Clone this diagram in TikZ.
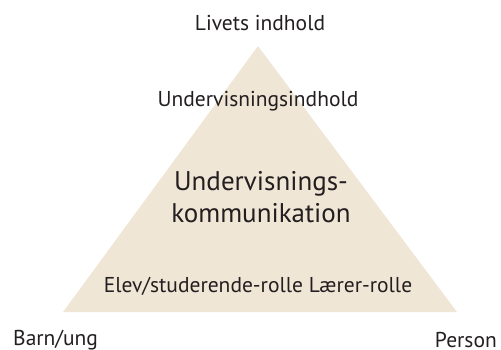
\documentclass[tikz,border=0pt]{standalone}
\usepackage{fontspec}
\setmainfont{PT Sans}
\definecolor{tri}{HTML}{F0E6D6}
\definecolor{ink}{HTML}{231F20}
\begin{document}
\begin{tikzpicture}[x=1pt,y=-1pt,
  lbl/.style={inner sep=0pt,text=ink,font=\fontsize{21.5}{24}\selectfont},
  big/.style={inner sep=0pt,text=ink,align=center,font=\fontsize{27}{32}\selectfont}]
\useasboundingbox (0,0) rectangle (501,350);
\coordinate (apex) at (258,46);
\coordinate (bl) at (63,312);
\coordinate (br) at (457,312);
\fill[tri] (apex) -- (bl) -- (br) -- cycle;
\node[lbl] (top) at (260,23) {Livets indhold};
\node[lbl] (ui) at (258,101) {Undervisningsindhold};
\node[big] (uk) at (261,197) {Undervisnings-\\kommunikation};
\node[lbl] (roles) at (258,286) {Elev/studerende-rolle Lærer-rolle};
\node[lbl,anchor=west] (barn) at (13,340) {Barn/ung};
\node[lbl,anchor=east] (person) at (497,340) {Person};
\end{tikzpicture}
\end{document}
